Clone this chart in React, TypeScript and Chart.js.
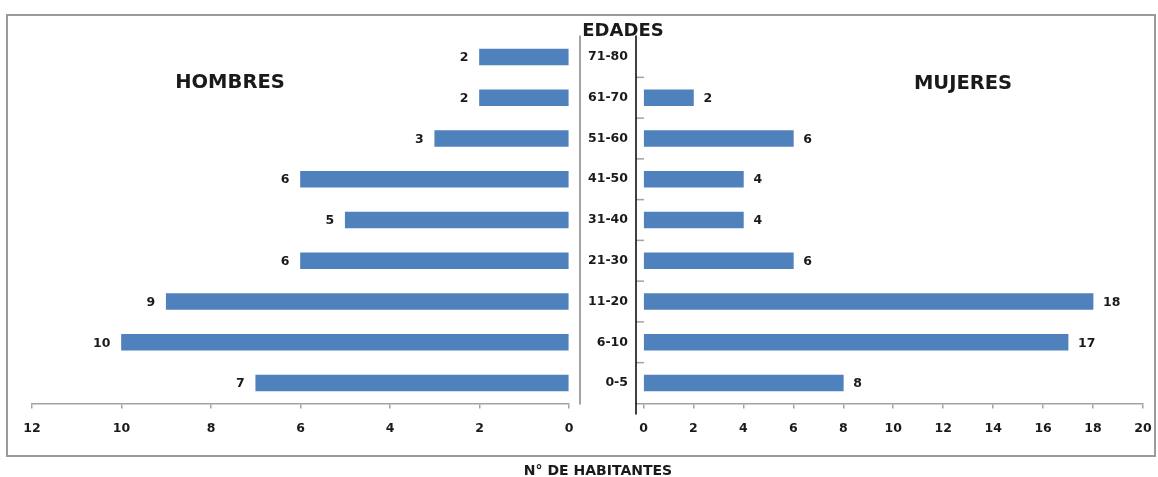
import React, { useEffect, useRef } from 'react';
import { Chart, registerables } from 'chart.js';

Chart.register(...registerables);

const ageGroups = ['0-5', '6-10', '11-20', '21-30', '31-40', '41-50', '51-60', '61-70', '71-80'];
const hombres = [7, 10, 9, 6, 5, 6, 3, 2, 2];
const mujeres: (number | null)[] = [8, 17, 18, 6, 4, 4, 6, 2, null];
const hombresTicks = [0, 2, 4, 6, 8, 10, 12];
const mujeresTicks = [0, 2, 4, 6, 8, 10, 12, 14, 16, 18, 20];

const FONT = '"DejaVu Sans", "Liberation Sans", sans-serif';
const BAR = '#4F81BD';
const AXIS = '#a3a3a3';
const TEXT = '#1a1a1a';
const NUM_FONT = { family: FONT, size: 12.5, weight: 'bold' as const };

const leftPlugin = {
  id: 'leftExtras',
  afterDatasetsDraw(chart: any) {
    const { ctx, chartArea } = chart;
    const meta = chart.getDatasetMeta(0);
    ctx.save();
    ctx.font = `bold ${NUM_FONT.size}px ${FONT}`;
    ctx.fillStyle = TEXT;
    ctx.textAlign = 'right';
    ctx.textBaseline = 'middle';
    meta.data.forEach((bar: any, i: number) => {
      const v = hombres[i];
      if (v == null) return;
      ctx.fillText(String(v), bar.x - 11, bar.y + 1);
    });
    // category axis line (gray)
    ctx.strokeStyle = AXIS;
    ctx.lineWidth = 2;
    ctx.beginPath();
    const x = chartArea.right + 11;
    ctx.moveTo(x, chartArea.top - 1);
    ctx.lineTo(x, chartArea.bottom + 1);
    ctx.stroke();
    ctx.restore();
  },
};

const rightPlugin = {
  id: 'rightExtras',
  afterDatasetsDraw(chart: any) {
    const { ctx, chartArea } = chart;
    const meta = chart.getDatasetMeta(0);
    const yScale = chart.scales.y;
    ctx.save();
    ctx.font = `bold ${NUM_FONT.size}px ${FONT}`;
    ctx.fillStyle = TEXT;
    ctx.textAlign = 'left';
    ctx.textBaseline = 'middle';
    meta.data.forEach((bar: any, i: number) => {
      const v = mujeres[i];
      if (v == null) return;
      ctx.fillText(String(v), bar.x + 10, bar.y + 1);
    });
    // small tick marks between categories
    ctx.strokeStyle = AXIS;
    ctx.lineWidth = 1.5;
    for (let i = 0; i < ageGroups.length - 1; i++) {
      const y = (yScale.getPixelForValue(i) + yScale.getPixelForValue(i + 1)) / 2;
      ctx.beginPath();
      ctx.moveTo(chartArea.left, y);
      ctx.lineTo(chartArea.left + 8, y);
      ctx.stroke();
    }
    // black vertical axis
    ctx.strokeStyle = '#000000';
    ctx.lineWidth = 1.5;
    ctx.beginPath();
    ctx.moveTo(chartArea.left, chartArea.top - 1);
    ctx.lineTo(chartArea.left, chartArea.bottom + 11);
    ctx.stroke();
    ctx.restore();
  },
};

function xAxis(min: number, max: number, reverse: boolean, tickValues: number[]) {
  return {
    type: 'linear' as const,
    min,
    max,
    reverse,
    afterBuildTicks: (s: any) => {
      s.ticks = tickValues.map((v) => ({ value: v }));
    },
    afterFit: (s: any) => {
      s.height = 40;
    },
    grid: { drawOnChartArea: false, drawTicks: true, tickLength: 5, color: AXIS, lineWidth: 1.5 },
    border: { display: true, color: AXIS, width: 1.5 },
    ticks: { font: NUM_FONT, color: TEXT, padding: 13, maxRotation: 0, autoSkip: false },
  };
}

export default function App() {
  const leftRef = useRef<HTMLCanvasElement>(null);
  const rightRef = useRef<HTMLCanvasElement>(null);

  useEffect(() => {
    document.body.style.margin = '0';
    const left = new Chart(leftRef.current!, {
      type: 'bar',
      data: {
        labels: ageGroups,
        datasets: [{ data: hombres, backgroundColor: BAR, borderWidth: 0, barThickness: 16 }],
      },
      options: {
        indexAxis: 'y',
        animation: false,
        responsive: false,
        maintainAspectRatio: false,
        layout: { padding: { left: 32, right: 31, top: 36.6, bottom: 33.6 } },
        plugins: { legend: { display: false }, tooltip: { enabled: false } },
        scales: {
          x: xAxis(0, 12, true, hombresTicks),
          y: { type: 'category', reverse: true, display: false, offset: true },
        },
      } as any,
      plugins: [leftPlugin],
    });

    const right = new Chart(rightRef.current!, {
      type: 'bar',
      data: {
        labels: ageGroups,
        datasets: [{ data: mujeres, backgroundColor: BAR, borderWidth: 0, barThickness: 16 }],
      },
      options: {
        indexAxis: 'y',
        animation: false,
        responsive: false,
        maintainAspectRatio: false,
        layout: { padding: { left: 6, right: 37, top: 36.6, bottom: 33.6 } },
        plugins: { legend: { display: false }, tooltip: { enabled: false } },
        scales: {
          x: xAxis(-0.3, 20, false, mujeresTicks),
          y: {
            type: 'category',
            reverse: true,
            offset: true,
            position: 'left',
            afterFit: (s: any) => {
              s.width = 50;
            },
            grid: { display: false, drawTicks: false },
            border: { display: false },
            ticks: { font: NUM_FONT, color: TEXT, padding: 8, autoSkip: false },
          },
        },
      } as any,
      plugins: [rightPlugin],
    });

    return () => {
      left.destroy();
      right.destroy();
    };
  }, []);

  const label = (text: string, cx: number, cy: number, size: number) => (
    <div
      style={{
        position: 'absolute',
        left: cx,
        top: cy,
        transform: 'translate(-50%, -50%)',
        fontFamily: FONT,
        fontWeight: 'bold',
        fontSize: size,
        color: TEXT,
        whiteSpace: 'nowrap',
        lineHeight: 1,
      }}
    >
      {text}
    </div>
  );

  return (
    <div style={{ position: 'relative', width: 1158, height: 477, background: '#fff', overflow: 'hidden' }}>
      <div
        style={{
          position: 'absolute',
          left: 6,
          top: 14,
          width: 1150,
          height: 443,
          border: '2px solid #9a9a9a',
          boxSizing: 'border-box',
        }}
      />
      <canvas ref={leftRef} width={600} height={477} style={{ position: 'absolute', left: 0, top: 0, display: 'block' }} />
      <canvas ref={rightRef} width={600} height={477} style={{ position: 'absolute', left: 580, top: 0, display: 'block' }} />
      {label('EDADES', 623, 30, 18)}
      {label('HOMBRES', 230, 82, 19.5)}
      {label('MUJERES', 963, 83, 19.5)}
      {label('N° DE HABITANTES', 598, 470, 14)}
    </div>
  );
}
